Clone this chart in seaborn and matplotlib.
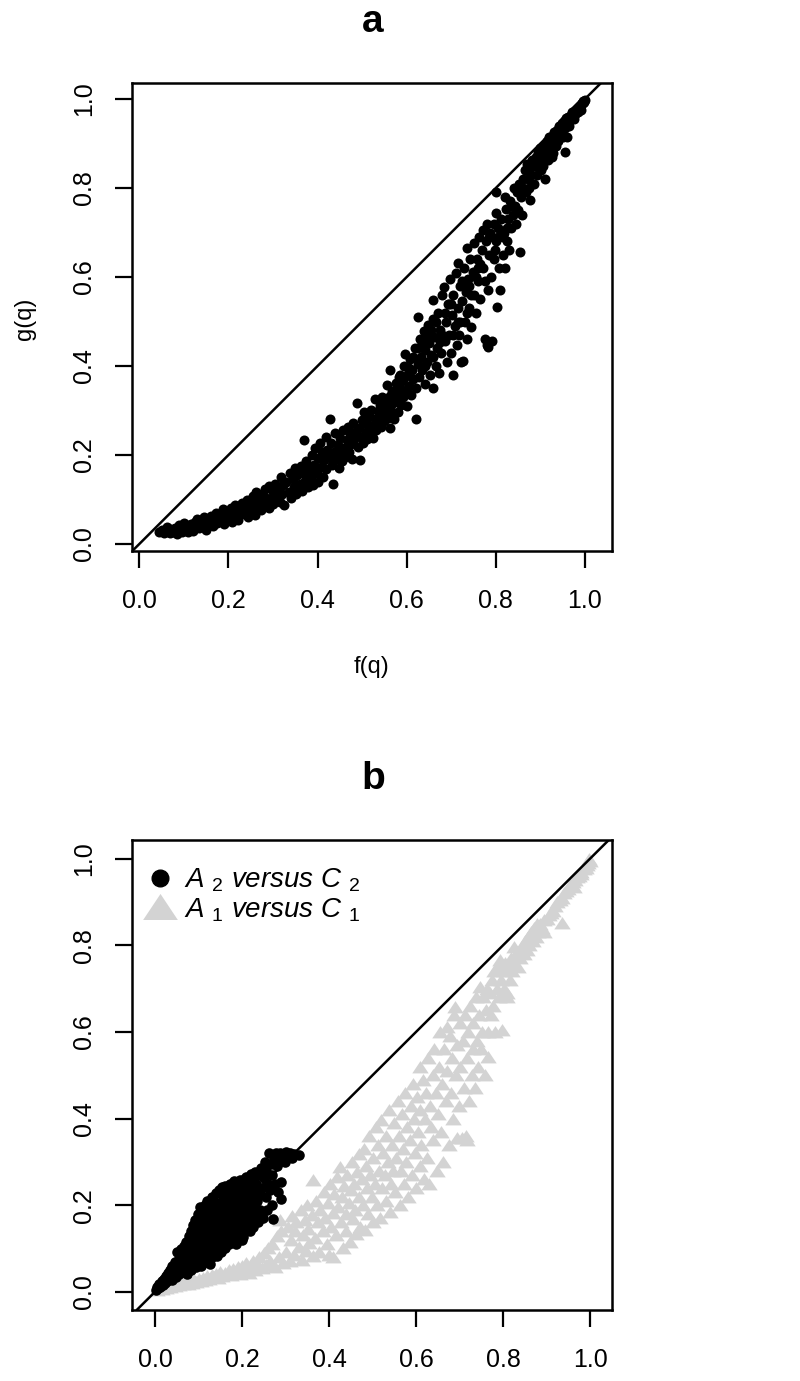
import matplotlib
matplotlib.use("Agg")
import matplotlib.pyplot as plt
import seaborn as sns
from matplotlib.lines import Line2D

sns.set_style("ticks")
plt.rcParams['font.family'] = ['Liberation Sans', 'DejaVu Sans']
plt.rcParams['mathtext.fontset'] = 'custom'
plt.rcParams['mathtext.rm'] = 'Liberation Sans'
plt.rcParams['mathtext.it'] = 'Liberation Sans:italic'
plt.rcParams['mathtext.default'] = 'it'
plt.rcParams['text.color'] = 'black'
plt.rcParams['axes.labelcolor'] = 'black'
plt.rcParams['xtick.color'] = 'black'
plt.rcParams['ytick.color'] = 'black'

# ---------------- data ----------------
tick_values = [0.0, 0.2, 0.4, 0.6, 0.8, 1.0]
tick_labels = ["0.0", "0.2", "0.4", "0.6", "0.8", "1.0"]
panel_titles = ["a", "b"]
x_label = "f(q)"
y_label = "g(q)"
legend_labels = ["$A$ $_{2}$ versus $C$ $_{2}$", "$A$ $_{1}$ versus $C$ $_{1}$"]

# panel a: f(q) vs g(q)
fa_x = [
    0.045,0.050,0.055,0.060,0.062,0.068,0.070,0.075,0.080,0.085,
    0.088,0.090,0.095,0.098,0.100,0.105,0.108,0.110,0.115,0.118,
    0.120,0.125,0.128,0.130,0.135,0.140,0.145,0.150,0.152,0.158,
    0.160,0.165,0.170,0.172,0.175,0.180,0.185,0.188,0.190,0.195,
    0.200,0.205,0.208,0.210,0.215,0.220,0.222,0.225,0.230,0.235,
    0.240,0.242,0.245,0.250,0.252,0.255,0.258,0.260,0.262,0.265,
    0.270,0.272,0.275,0.280,0.282,0.285,0.290,0.292,0.295,0.300,
    0.300,0.305,0.308,0.310,0.315,0.318,0.320,0.322,0.325,0.330,
    0.335,0.338,0.340,0.345,0.348,0.350,0.352,0.355,0.360,0.362,
    0.365,0.368,0.370,0.372,0.375,0.378,0.380,0.385,0.388,0.390,
    0.392,0.395,0.398,0.400,0.402,0.405,0.408,0.410,0.412,0.415,
    0.418,0.420,0.422,0.425,0.428,0.430,0.432,0.435,0.438,0.440,
    0.442,0.445,0.448,0.450,0.452,0.455,0.458,0.460,0.462,0.465,
    0.468,0.470,0.472,0.475,0.478,0.480,0.482,0.485,0.488,0.490,
    0.492,0.495,0.498,0.500,0.502,0.505,0.508,0.510,0.512,0.515,
    0.518,0.520,0.522,0.525,0.528,0.530,0.532,0.535,0.538,0.540,
    0.542,0.545,0.548,0.550,0.552,0.555,0.558,0.560,0.562,0.563,
    0.565,0.568,0.570,0.572,0.575,0.578,0.580,0.582,0.585,0.588,
    0.590,0.592,0.595,0.596,0.598,0.600,0.602,0.605,0.608,0.610,
    0.612,0.615,0.618,0.620,0.622,0.625,0.626,0.628,0.630,0.632,
    0.635,0.638,0.640,0.642,0.645,0.648,0.650,0.652,0.655,0.658,
    0.660,0.660,0.662,0.665,0.668,0.670,0.672,0.675,0.678,0.680,
    0.683,0.685,0.688,0.690,0.692,0.695,0.698,0.700,0.702,0.705,
    0.705,0.708,0.710,0.712,0.715,0.716,0.718,0.720,0.722,0.725,
    0.727,0.728,0.730,0.732,0.735,0.735,0.738,0.740,0.742,0.745,
    0.748,0.750,0.752,0.755,0.758,0.760,0.762,0.765,0.768,0.772,
    0.772,0.775,0.778,0.780,0.782,0.783,0.785,0.788,0.790,0.792,
    0.795,0.798,0.800,0.800,0.802,0.805,0.808,0.810,0.812,0.815,
    0.818,0.820,0.822,0.825,0.828,0.830,0.832,0.835,0.838,0.840,
    0.842,0.845,0.848,0.850,0.852,0.854,0.856,0.858,0.860,0.862,
    0.865,0.868,0.870,0.872,0.875,0.877,0.878,0.880,0.882,0.885,
    0.888,0.890,0.892,0.895,0.898,0.900,0.902,0.905,0.908,0.910,
    0.912,0.915,0.918,0.920,0.922,0.925,0.928,0.930,0.932,0.935,
    0.938,0.940,0.942,0.945,0.948,0.950,0.952,0.955,0.955,0.958,
    0.960,0.962,0.965,0.968,0.970,0.972,0.975,0.978,0.980,0.982,
    0.985,0.986,0.988,0.990,0.992,0.994,0.995,0.996,0.998,0.999,
    0.545,0.555,0.565,0.575,0.585,0.595,0.605,0.615,0.625,0.635,
    0.645,0.655,0.665,0.675,0.685,0.695,0.705,0.715,0.725,0.735,
    0.745,0.755,0.765,0.775,0.785,0.795,0.805,0.815,0.825,0.835,
    0.640,0.660,0.680,0.700,0.720,0.740,0.760,0.780,0.800,0.820,
    0.905,0.915,0.925,0.935,0.945,0.955,0.965,0.975,0.985,0.990,
]
ga_y = [
    0.028,0.032,0.025,0.030,0.038,0.024,0.034,0.028,0.036,0.022,
    0.030,0.042,0.028,0.036,0.048,0.032,0.040,0.026,0.046,0.036,
    0.030,0.050,0.040,0.056,0.036,0.046,0.060,0.032,0.052,0.044,
    0.062,0.040,0.056,0.070,0.048,0.064,0.052,0.078,0.044,0.070,
    0.060,0.080,0.050,0.072,0.088,0.064,0.054,0.078,0.092,0.068,
    0.082,0.100,0.060,0.090,0.074,0.108,0.094,0.066,0.118,0.084,
    0.100,0.076,0.112,0.090,0.124,0.104,0.082,0.130,0.098,0.116,
    0.090,0.136,0.106,0.122,0.094,0.150,0.112,0.132,0.088,0.140,
    0.118,0.160,0.104,0.146,0.128,0.170,0.112,0.154,0.136,0.176,
    0.120,0.160,0.234,0.142,0.186,0.128,0.168,0.150,0.200,0.132,
    0.178,0.216,0.160,0.194,0.140,0.228,0.174,0.206,0.150,0.188,
    0.240,0.168,0.212,0.196,0.282,0.228,0.178,0.134,0.206,0.250,
    0.190,0.222,0.170,0.238,0.204,0.186,0.256,0.216,0.196,0.234,
    0.262,0.206,0.244,0.224,0.190,0.272,0.236,0.252,0.316,0.218,
    0.260,0.189,0.240,0.278,0.226,0.296,0.252,0.236,0.270,0.288,
    0.248,0.302,0.266,0.238,0.327,0.282,0.256,0.300,0.272,0.312,
    0.262,0.290,0.320,0.276,0.304,0.357,0.284,0.330,0.260,0.390,
    0.300,0.344,0.316,0.280,0.362,0.330,0.296,0.376,0.348,0.312,
    0.366,0.330,0.400,0.428,0.346,0.310,0.382,0.356,0.416,0.336,
    0.392,0.370,0.440,0.350,0.282,0.404,0.511,0.376,0.460,0.420,
    0.390,0.478,0.436,0.360,0.410,0.492,0.452,0.380,0.424,0.506,
    0.350,0.548,0.466,0.400,0.440,0.520,0.384,0.482,0.430,0.560,
    0.578,0.456,0.500,0.410,0.540,0.470,0.596,0.430,0.514,0.380,
    0.560,0.490,0.610,0.448,0.530,0.631,0.470,0.580,0.410,0.546,
    0.412,0.620,0.500,0.566,0.665,0.460,0.596,0.530,0.640,0.488,
    0.612,0.560,0.676,0.520,0.640,0.590,0.690,0.550,0.660,0.706,
    0.620,0.460,0.680,0.448,0.570,0.443,0.650,0.700,0.600,0.456,
    0.720,0.660,0.743,0.792,0.533,0.690,0.620,0.570,0.730,0.650,
    0.700,0.620,0.752,0.680,0.730,0.660,0.770,0.710,0.740,0.800,
    0.760,0.720,0.790,0.750,0.810,0.657,0.780,0.740,0.820,0.800,
    0.840,0.790,0.855,0.820,0.800,0.773,0.848,0.830,0.862,0.810,
    0.850,0.870,0.830,0.880,0.856,0.890,0.840,0.870,0.895,0.820,
    0.880,0.905,0.862,0.915,0.890,0.910,0.878,0.925,0.900,0.918,
    0.930,0.905,0.940,0.925,0.945,0.915,0.950,0.935,0.882,0.958,
    0.915,0.960,0.950,0.965,0.955,0.970,0.962,0.975,0.968,0.980,
    0.978,0.985,0.982,0.988,0.986,0.992,0.990,0.996,0.994,0.998,
    0.330,0.318,0.334,0.346,0.380,0.372,0.396,0.420,0.440,0.455,
    0.470,0.480,0.500,0.455,0.520,0.540,0.470,0.500,0.590,0.520,
    0.560,0.600,0.630,0.590,0.690,0.640,0.710,0.690,0.710,0.760,
    0.400,0.420,0.470,0.540,0.500,0.580,0.620,0.720,0.680,0.780,
    0.850,0.895,0.870,0.895,0.938,0.945,0.940,0.955,0.970,0.975,
]

# panel b: A1 versus C1 (grey triangles)
grey_x = [
    0.005,0.010,0.015,0.020,0.025,0.030,0.035,0.040,0.045,0.050,
    0.055,0.060,0.065,0.070,0.075,0.080,0.085,0.090,0.095,0.100,
    0.105,0.110,0.115,0.120,0.125,0.130,0.135,0.140,0.145,0.150,
    0.155,0.160,0.165,0.170,0.175,0.180,0.185,0.190,0.195,0.200,
    0.205,0.210,0.215,0.220,0.225,0.230,0.235,0.240,0.245,0.250,
    0.255,0.260,0.265,0.270,0.275,0.280,0.285,0.287,0.290,0.295,
    0.300,0.305,0.310,0.312,0.315,0.320,0.322,0.325,0.330,0.335,
    0.338,0.340,0.345,0.348,0.350,0.352,0.355,0.360,0.362,0.364,
    0.368,0.370,0.375,0.378,0.380,0.385,0.388,0.390,0.395,0.398,
    0.400,0.402,0.405,0.408,0.410,0.412,0.415,0.418,0.420,0.425,
    0.428,0.430,0.432,0.435,0.438,0.440,0.442,0.445,0.448,0.450,
    0.452,0.455,0.458,0.460,0.462,0.465,0.468,0.470,0.472,0.475,
    0.478,0.480,0.482,0.485,0.487,0.490,0.492,0.495,0.498,0.500,
    0.502,0.505,0.508,0.510,0.512,0.515,0.518,0.520,0.522,0.525,
    0.528,0.530,0.532,0.535,0.538,0.540,0.542,0.545,0.548,0.550,
    0.552,0.555,0.558,0.560,0.562,0.565,0.568,0.570,0.572,0.575,
    0.578,0.580,0.582,0.585,0.588,0.590,0.592,0.595,0.598,0.600,
    0.602,0.605,0.608,0.609,0.610,0.612,0.615,0.618,0.620,0.622,
    0.625,0.628,0.630,0.632,0.635,0.638,0.640,0.642,0.645,0.648,
    0.650,0.652,0.655,0.658,0.660,0.662,0.665,0.668,0.670,0.672,
    0.675,0.678,0.680,0.682,0.685,0.688,0.690,0.692,0.694,0.695,
    0.698,0.700,0.702,0.705,0.708,0.710,0.712,0.714,0.716,0.718,
    0.720,0.722,0.725,0.728,0.730,0.732,0.735,0.738,0.740,0.742,
    0.745,0.747,0.750,0.752,0.755,0.758,0.760,0.762,0.765,0.766,
    0.770,0.772,0.775,0.778,0.780,0.782,0.785,0.788,0.790,0.793,
    0.795,0.798,0.800,0.802,0.805,0.808,0.810,0.812,0.815,0.818,
    0.820,0.824,0.826,0.830,0.834,0.838,0.840,0.845,0.848,0.850,
    0.855,0.858,0.860,0.865,0.868,0.870,0.875,0.878,0.880,0.885,
    0.890,0.893,0.895,0.900,0.905,0.910,0.915,0.920,0.925,0.930,
    0.935,0.935,0.940,0.945,0.950,0.955,0.960,0.962,0.965,0.970,
    0.975,0.978,0.980,0.985,0.988,0.990,0.992,0.995,0.997,1.000,
]
grey_y = [
    0.004,0.008,0.006,0.012,0.009,0.014,0.011,0.016,0.013,0.018,
    0.015,0.020,0.017,0.022,0.019,0.025,0.021,0.027,0.023,0.030,
    0.025,0.032,0.028,0.036,0.030,0.038,0.034,0.042,0.032,0.046,
    0.036,0.044,0.040,0.050,0.038,0.052,0.044,0.058,0.042,0.060,
    0.048,0.066,0.044,0.056,0.072,0.050,0.064,0.080,0.054,0.090,
    0.062,0.100,0.070,0.110,0.058,0.128,0.080,0.166,0.140,0.066,
    0.092,0.150,0.070,0.120,0.176,0.084,0.140,0.160,0.104,0.188,
    0.074,0.130,0.166,0.095,0.200,0.145,0.112,0.178,0.082,0.258,
    0.124,0.210,0.160,0.092,0.190,0.140,0.230,0.170,0.110,0.205,
    0.084,0.250,0.150,0.182,0.081,0.226,0.130,0.265,0.196,0.289,
    0.160,0.220,0.100,0.245,0.180,0.140,0.270,0.205,0.116,0.235,
    0.300,0.168,0.250,0.190,0.134,0.276,0.220,0.318,0.150,0.260,
    0.200,0.330,0.142,0.290,0.240,0.180,0.360,0.270,0.220,0.160,
    0.310,0.250,0.380,0.200,0.340,0.280,0.170,0.397,0.240,0.320,
    0.270,0.210,0.360,0.300,0.420,0.185,0.250,0.340,0.280,0.390,
    0.230,0.310,0.440,0.360,0.200,0.280,0.410,0.330,0.250,0.460,
    0.300,0.380,0.220,0.350,0.430,0.270,0.480,0.400,0.320,0.240,
    0.450,0.370,0.290,0.520,0.420,0.340,0.490,0.260,0.400,0.460,
    0.310,0.540,0.250,0.430,0.380,0.500,0.350,0.560,0.460,0.280,
    0.410,0.520,0.600,0.370,0.480,0.300,0.560,0.440,0.612,0.510,
    0.340,0.590,0.460,0.540,0.400,0.640,0.658,0.500,0.355,0.570,
    0.430,0.620,0.520,0.355,0.580,0.470,0.640,0.360,0.350,0.540,
    0.600,0.440,0.660,0.500,0.560,0.620,0.470,0.680,0.580,0.520,
    0.640,0.704,0.560,0.600,0.680,0.500,0.650,0.700,0.600,0.543,
    0.690,0.640,0.720,0.660,0.740,0.600,0.700,0.750,0.680,0.766,
    0.720,0.604,0.740,0.700,0.760,0.680,0.689,0.745,0.720,0.770,
    0.740,0.797,0.760,0.780,0.750,0.790,0.770,0.800,0.780,0.810,
    0.790,0.820,0.800,0.830,0.810,0.840,0.820,0.850,0.830,0.850,
    0.840,0.858,0.830,0.860,0.870,0.875,0.880,0.890,0.900,0.905,
    0.910,0.851,0.920,0.925,0.930,0.940,0.945,0.935,0.950,0.958,
    0.960,0.970,0.965,0.975,0.980,0.978,0.985,0.990,1.000,0.995,
]

# panel b: A2 versus C2 (black circles)
black_x = [
    0.002,0.005,0.008,0.010,0.012,0.015,0.018,0.020,0.022,0.025,
    0.028,0.030,0.032,0.035,0.038,0.040,0.042,0.045,0.048,0.050,
    0.052,0.055,0.056,0.058,0.060,0.062,0.064,0.065,0.067,0.068,
    0.070,0.072,0.073,0.075,0.077,0.078,0.080,0.082,0.083,0.085,
    0.086,0.088,0.090,0.091,0.092,0.094,0.095,0.096,0.098,0.099,
    0.100,0.101,0.102,0.103,0.104,0.105,0.106,0.108,0.109,0.110,
    0.111,0.112,0.113,0.114,0.115,0.116,0.117,0.118,0.119,0.120,
    0.121,0.122,0.123,0.124,0.125,0.126,0.127,0.128,0.129,0.130,
    0.131,0.132,0.133,0.134,0.135,0.136,0.137,0.138,0.139,0.140,
    0.141,0.142,0.143,0.144,0.145,0.146,0.147,0.148,0.149,0.150,
    0.151,0.152,0.153,0.154,0.155,0.156,0.157,0.158,0.159,0.160,
    0.161,0.162,0.163,0.164,0.165,0.166,0.167,0.168,0.169,0.170,
    0.171,0.172,0.173,0.174,0.175,0.176,0.177,0.178,0.179,0.180,
    0.181,0.182,0.183,0.184,0.185,0.186,0.187,0.188,0.189,0.190,
    0.191,0.192,0.193,0.194,0.195,0.196,0.197,0.198,0.199,0.200,
    0.201,0.202,0.203,0.204,0.205,0.206,0.207,0.208,0.209,0.210,
    0.211,0.212,0.213,0.214,0.215,0.216,0.217,0.218,0.219,0.220,
    0.221,0.222,0.223,0.224,0.225,0.226,0.227,0.228,0.229,0.230,
    0.232,0.234,0.236,0.238,0.240,0.242,0.244,0.246,0.248,0.250,
    0.252,0.254,0.256,0.258,0.260,0.262,0.264,0.266,0.268,0.270,
    0.272,0.274,0.276,0.278,0.280,0.282,0.285,0.288,0.290,0.290,
    0.294,0.298,0.300,0.302,0.305,0.308,0.310,0.315,0.320,0.330,
]
black_y = [
    0.005,0.012,0.008,0.018,0.012,0.024,0.016,0.030,0.020,0.036,
    0.026,0.044,0.032,0.050,0.028,0.060,0.040,0.068,0.034,0.092,
    0.050,0.076,0.040,0.062,0.098,0.046,0.084,0.070,0.106,0.056,
    0.090,0.116,0.040,0.076,0.128,0.060,0.100,0.140,0.050,0.086,
    0.118,0.154,0.070,0.104,0.166,0.130,0.058,0.090,0.180,0.146,
    0.112,0.076,0.160,0.196,0.128,0.060,0.100,0.174,0.140,0.088,
    0.188,0.120,0.154,0.068,0.200,0.108,0.170,0.136,0.080,0.210,
    0.150,0.096,0.182,0.124,0.165,0.065,0.200,0.110,0.140,0.220,
    0.080,0.176,0.128,0.158,0.094,0.210,0.144,0.188,0.114,0.228,
    0.166,0.082,0.196,0.130,0.152,0.100,0.236,0.176,0.120,0.206,
    0.142,0.092,0.243,0.186,0.160,0.110,0.222,0.134,0.196,0.176,
    0.100,0.244,0.150,0.210,0.124,0.186,0.168,0.232,0.140,0.110,
    0.200,0.250,0.156,0.182,0.120,0.222,0.140,0.240,0.170,0.196,
    0.256,0.130,0.214,0.160,0.232,0.110,0.186,0.250,0.146,0.206,
    0.170,0.240,0.126,0.222,0.190,0.258,0.150,0.210,0.232,0.120,
    0.180,0.258,0.127,0.200,0.244,0.160,0.220,0.266,0.140,0.190,
    0.236,0.150,0.210,0.262,0.170,0.226,0.250,0.140,0.196,0.272,
    0.160,0.240,0.186,0.214,0.262,0.150,0.230,0.200,0.276,0.175,
    0.250,0.210,0.160,0.270,0.226,0.190,0.286,0.240,0.170,0.262,
    0.300,0.220,0.280,0.190,0.250,0.320,0.236,0.296,0.200,0.270,
    0.169,0.310,0.250,0.320,0.290,0.230,0.305,0.320,0.215,0.254,
    0.318,0.300,0.322,0.310,0.318,0.312,0.320,0.310,0.318,0.316,
]

assert len(fa_x) == len(ga_y)
assert len(grey_x) == len(grey_y)
assert len(black_x) == len(black_y)

# ---------------- figure ----------------
W, H = 800, 1381
fig = plt.figure(figsize=(W / 100, H / 100), dpi=100)

def frac_box(left, top, right, bottom):
    return [left / W, 1 - bottom / H, (right - left) / W, (bottom - top) / H]

axa = fig.add_axes(frac_box(131.7, 83, 611.7, 550.7))
axb = fig.add_axes(frac_box(131.7, 840, 611.7, 1310))

tri = [(-1.0, -0.72), (1.0, -0.72), (0.0, 0.78)]

sns.scatterplot(x=fa_x, y=ga_y, ax=axa, color="black", s=52,
                linewidth=0, legend=False)
sns.scatterplot(x=grey_x, y=grey_y, ax=axb, color="#d3d3d3", marker=tri,
                s=140, linewidth=0, legend=False)
sns.scatterplot(x=black_x, y=black_y, ax=axb, color="black", s=58,
                linewidth=0, legend=False)

limits = {axa: ((-0.017, 1.060), (-0.015, 1.036)),
          axb: ((-0.0536, 1.0497), (-0.042, 1.043))}

for ax in (axa, axb):
    (x0, x1), (y0, y1) = limits[ax]
    ax.axline((0, 0), (1, 1), color="black", lw=1.8, zorder=3)
    ax.set_xlim(x0, x1)
    ax.set_ylim(y0, y1)
    ax.set_xticks(tick_values)
    ax.set_xticklabels(tick_labels)
    ax.set_yticks(tick_values)
    ax.set_yticklabels(tick_labels, rotation=90, va="center")
    ax.tick_params(direction="out", length=12.5, width=1.6, labelsize=18,
                   color="black", labelcolor="black")
    ax.tick_params(axis="x", pad=15)
    ax.tick_params(axis="y", pad=13)
    for sp in ax.spines.values():
        sp.set_visible(True)
        sp.set_linewidth(1.8)
        sp.set_color("black")
    ax.set_xlabel("")
    ax.set_ylabel("")
    ax.set_facecolor("white")

fig.text(373 / W, 1 - 22 / H, panel_titles[0], ha="center", va="center",
         fontsize=28, fontweight="bold", color="black")
fig.text(373 / W, 1 - 779 / H, panel_titles[1], ha="center", va="center",
         fontsize=28, fontweight="bold", color="black")
fig.text(371.7 / W, 1 - 667 / H, x_label, ha="center", va="center",
         fontsize=17, color="black")
fig.text(25 / W, 1 - 319 / H, y_label, ha="center", va="center", fontsize=17,
         rotation=90, color="black")

handles = [
    Line2D([], [], linestyle="none", marker="o", color="black", markersize=12),
    Line2D([], [], linestyle="none", marker=tri, color="#d3d3d3",
           markersize=25, markeredgewidth=0),
]
axb.legend(handles, legend_labels, loc="upper left",
           bbox_to_anchor=(-0.012, 0.985), frameon=False,
           prop={"size": 20, "style": "italic"}, handlelength=1.05,
           handletextpad=0.33, labelspacing=0.08, borderaxespad=0.3,
           labelcolor="black")

fig.savefig("out.png", dpi=100, facecolor="white")
